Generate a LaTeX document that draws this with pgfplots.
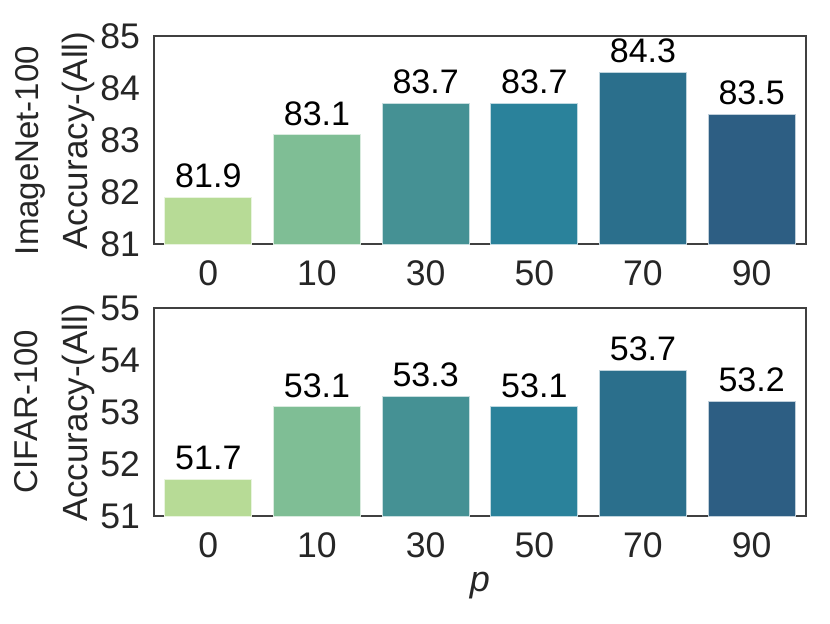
\documentclass[border=0pt]{standalone}
\usepackage{fontspec}
\setmainfont{Liberation Sans}
\usepackage{pgfplots}
\pgfplotsset{compat=1.18}

\definecolor{c0}{HTML}{B7DB96}
\definecolor{c1}{HTML}{7FBE95}
\definecolor{c2}{HTML}{459194}
\definecolor{c3}{HTML}{2A829B}
\definecolor{c4}{HTML}{2B6F8C}
\definecolor{c5}{HTML}{2D5E83}
\definecolor{txt}{HTML}{262626}

\pgfplotsset{
  accbar/.style={
    width=326pt, height=104pt, scale only axis,
    anchor=north west,
    xmin=-0.5, xmax=5.5,
    xtick={0,...,5},
    xticklabels={0,10,30,50,70,90},
    ytick distance=1,
    major tick length=0pt,
    axis line style={draw=black!75, line width=0.6pt},
    tick label style={font=\fontsize{17.8}{19}\selectfont, text=txt},
    /pgf/number format/assume math mode=true,
    xticklabel style={yshift=-5pt},
    yticklabel style={xshift=-3.5pt},
    bar width=0.8,
    nodes near coords={\pgfplotspointmeta},
    point meta=explicit symbolic,
    every node near coord/.style={font=\fontsize{17}{18}\selectfont, text=black, anchor=south, inner sep=0pt, yshift=4.5pt},
  },
  barstyle/.style={ybar, bar shift=0pt, fill=#1, draw=white!70!#1, line width=0.4pt},
}

\begin{document}
\begin{tikzpicture}
\useasboundingbox (0,0) rectangle (415pt,-311.5pt);

\begin{axis}[accbar, at={(77pt,-18pt)}, ymin=81, ymax=85]
\addplot[barstyle=c0] coordinates {(0,81.9) [81.9]};
\addplot[barstyle=c1] coordinates {(1,83.1) [83.1]};
\addplot[barstyle=c2] coordinates {(2,83.7) [83.7]};
\addplot[barstyle=c3] coordinates {(3,83.7) [83.7]};
\addplot[barstyle=c4] coordinates {(4,84.3) [84.3]};
\addplot[barstyle=c5] coordinates {(5,83.5) [83.5]};
\end{axis}

\begin{axis}[accbar, at={(77pt,-154pt)}, ymin=51, ymax=55,
  xlabel={\itshape p}, xlabel style={font=\fontsize{18}{20}\selectfont, text=txt, yshift=0pt}]
\addplot[barstyle=c0] coordinates {(0,51.7) [51.7]};
\addplot[barstyle=c1] coordinates {(1,53.1) [53.1]};
\addplot[barstyle=c2] coordinates {(2,53.3) [53.3]};
\addplot[barstyle=c3] coordinates {(3,53.1) [53.1]};
\addplot[barstyle=c4] coordinates {(4,53.8) [53.7]};
\addplot[barstyle=c5] coordinates {(5,53.2) [53.2]};
\end{axis}

% y labels
\begin{scope}[every node/.style={rotate=90, anchor=base, inner sep=0pt, text=txt}]
\node[font=\fontsize{16.5}{18}\selectfont] at (19.5pt,-75.25pt) {ImageNet-100};
\node[font=\fontsize{17.5}{19}\selectfont] at (43.5pt,-70.25pt) {Accuracy-(All)};
\node[font=\fontsize{16.5}{18}\selectfont] at (19pt,-205.75pt) {CIFAR-100};
\node[font=\fontsize{17.5}{19}\selectfont] at (43.5pt,-206.5pt) {Accuracy-(All)};
\end{scope}
\end{tikzpicture}
\end{document}
